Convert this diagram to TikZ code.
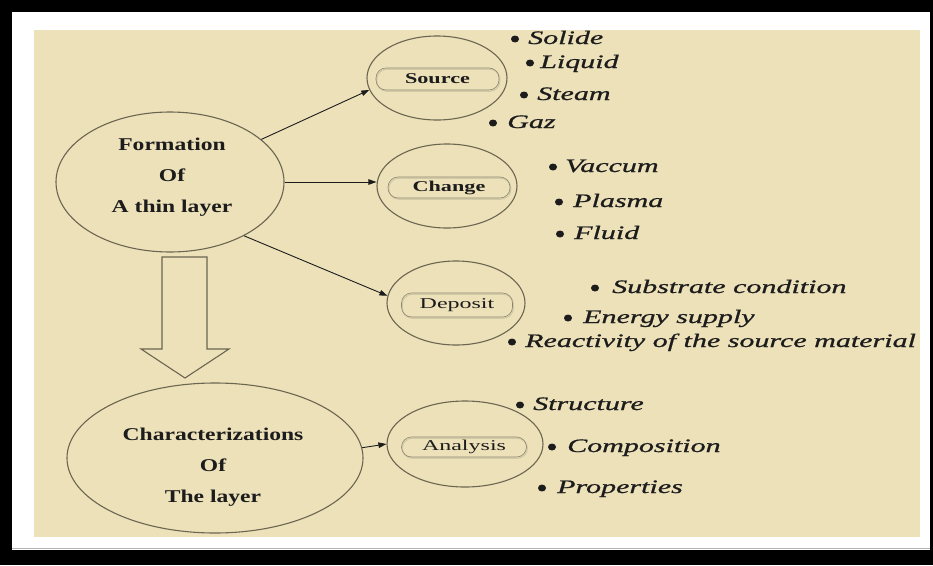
\documentclass[tikz,border=0pt]{standalone}
\usepackage{fontspec}
\usetikzlibrary{shapes.geometric,arrows.meta}
\setmainfont{Liberation Serif}
\newfontfamily\bigbf[FakeStretch=1.31]{Liberation Serif}
\newfontfamily\itfam[FakeStretch=1.58,FakeBold=0.9]{Liberation Serif}
\newfontfamily\pillbf[FakeStretch=1.48]{Liberation Serif}
\newfontfamily\pillrm[FakeStretch=1.6]{Liberation Serif}
\definecolor{beige}{HTML}{EDE1BA}
\definecolor{edgec}{HTML}{6B6650}
\definecolor{pillc}{HTML}{8C8670}
\definecolor{shadc}{HTML}{D2C9A6}
\definecolor{inkc}{HTML}{1C1C1C}
\tikzset{
  bigell/.style={ellipse, draw=edgec, line width=1.1pt, inner sep=0pt},
  smell/.style={ellipse, draw=edgec, line width=1.1pt, inner sep=0pt, minimum height=84pt},
  bigtxt/.style={align=center, text=inkc, font=\bigbf\bfseries\fontsize{18}{31}\selectfont, inner sep=0pt},
  pill/.style={rounded corners=10pt, draw=pillc, line width=0.6pt, inner sep=0pt, text=inkc,
    preaction={draw=shadc, line width=1.2pt, transform canvas={shift={(0.8pt,-1.2pt)}}}},
  pbf/.style={font=\pillbf\bfseries\fontsize{15}{17}\selectfont},
  prm/.style={font=\pillrm\fontsize{15}{17}\selectfont},
  bul/.style={ellipse, fill=inkc, inner sep=0pt, minimum width=8pt, minimum height=7pt},
  itm/.style={anchor=base west, inner sep=0pt, text=inkc, font=\itfam\itshape\fontsize{19}{22}\selectfont},
  arr/.style={draw=inkc, line width=0.9pt, -{Triangle[length=8pt,width=5.5pt]}},
  hollow/.style={draw=edgec, line width=1.1pt, fill=beige, line join=miter}
}
\begin{document}
\begin{tikzpicture}[x=1pt,y=-1pt]
\useasboundingbox (0,0) rectangle (933,565);
% frame
\fill[black] (0,0) rectangle (933,565);
\fill[white] (12,12) rectangle (930,550);
\draw[gray!60, line width=1.2pt] (12,548.5) -- (930,548.5);
\fill[beige] (34,30) rectangle (920,537);

% main ellipses
\node[bigell, minimum width=228pt, minimum height=140pt] (form) at (170,182) {};
\node[bigtxt] (formt) at (172,177) {Formation\\Of\\A thin layer};
\node[bigell, minimum width=296pt, minimum height=150pt] (char) at (215,458) {};
\node[bigtxt] (chart) at (213,467) {Characterizations\\Of\\The layer};

% small ellipses
\node[smell, minimum width=140pt] (src) at (437,78) {};
\node[smell, minimum width=140pt] (chg) at (447,186) {};
\node[smell, minimum width=138pt] (dep) at (456,303) {};
\node[smell, minimum width=156pt, minimum height=86pt] (ana) at (465,444) {};

% pills
\node[pill, pbf, minimum width=123pt, minimum height=22pt] (srcp) at (437.5,79) {Source};
\node[pill, pbf, minimum width=122pt, minimum height=21pt] (chgp) at (449,187.5) {Change};
\node[pill, prm, minimum width=111pt, minimum height=24pt] (depp) at (457,305) {Deposit};
\node[pill, prm, minimum width=125pt, minimum height=20pt] (anap) at (464,447) {Analysis};

% connectors
\draw[arr] (form.25) -- (src.190);
\draw[arr] (form.east) -- (form.east -| chg.west);
\draw[arr] (form.-36) -- (dep.174);
\draw[arr] (char.4) -- (ana.west);

% hollow arrow
\draw[hollow] (162,257) -- (207,257) -- (207,349) -- (229,349) -- (185,378) -- (141,349) -- (162,349) -- cycle;

% bullet lists
\node[bul] (b1) at (515,39) {};   \node[itm] (t1) at (528,44) {Solide};
\node[bul] (b2) at (530,63) {};   \node[itm] (t2) at (540,68) {Liquid};
\node[bul] (b3) at (524,95) {};   \node[itm] (t3) at (537,100) {Steam};
\node[bul] (b4) at (493,123) {};  \node[itm] (t4) at (507,128) {Gaz};
\node[bul] (b5) at (553,167) {};  \node[itm] (t5) at (565,172) {Vaccum};
\node[bul] (b6) at (559,202) {};  \node[itm] (t6) at (573,207) {Plasma};
\node[bul] (b7) at (560,234) {};  \node[itm] (t7) at (574,239) {Fluid};
\node[bul] (b8) at (595,288) {};  \node[itm] (t8) at (612,293) {Substrate condition};
\node[bul] (b9) at (568,318) {};  \node[itm] (t9) at (583,323) {Energy supply};
\node[bul] (b10) at (512,342) {}; \node[itm] (t10) at (525,347) {Reactivity of the source material};
\node[bul] (b11) at (520,405) {}; \node[itm] (t11) at (533,410) {Structure};
\node[bul] (b12) at (552,447) {}; \node[itm] (t12) at (567,452) {Composition};
\node[bul] (b13) at (542,488) {}; \node[itm] (t13) at (557,493) {Properties};
\end{tikzpicture}
\end{document}
